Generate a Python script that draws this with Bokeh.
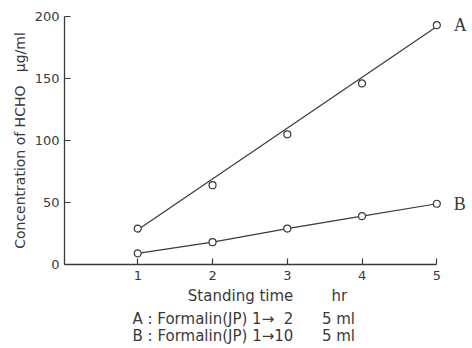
from bokeh.plotting import figure
from bokeh.models import Range1d, Label, FixedTicker, Title
from bokeh.embed import file_html
from bokeh.resources import INLINE

time_hr = [1, 2, 3, 4, 5]
conc_A = [29, 64, 105, 146, 193]
conc_B = [9, 18, 29, 39, 49]
fit_A_x = [1, 5]
fit_A_y = [28, 192]
x_ticks = [1, 2, 3, 4, 5]
y_ticks = [0, 50, 100, 150, 200]

INK = "#3a3a3a"
FONT = "DejaVu Sans"
NB = "\u00a0"

p = figure(width=472, height=348, output_backend="svg", toolbar_location=None,
           x_range=Range1d(0.02, 5.45), y_range=Range1d(0, 200),
           min_border_left=64, min_border_right=2, min_border_top=16, min_border_bottom=84)
p.outline_line_color = None
p.xgrid.visible = False
p.ygrid.visible = False
p.background_fill_color = "white"
p.border_fill_color = "white"

for ax in (p.xaxis[0], p.yaxis[0]):
    ax.axis_line_color = INK
    ax.axis_line_width = 1.3
    ax.major_tick_line_color = INK
    ax.major_tick_line_width = 1.2
    ax.major_tick_in = 6
    ax.major_tick_out = 0
    ax.minor_tick_line_color = None
    ax.major_label_text_font = FONT
    ax.major_label_text_font_size = "13px"
    ax.major_label_text_color = INK
    ax.axis_label_text_font = FONT
    ax.axis_label_text_font_style = "normal"
    ax.axis_label_text_color = INK

p.xaxis.bounds = (0.02, 5)
p.xaxis.ticker = FixedTicker(ticks=x_ticks)
p.yaxis.ticker = FixedTicker(ticks=y_ticks)
p.xaxis.major_label_standoff = 6
p.yaxis.major_label_standoff = 5
p.xaxis.axis_label = "Standing" + NB + "time" + NB * 8 + "hr"
p.xaxis.axis_label_text_font_size = "15px"
p.xaxis.axis_label_standoff = 4
p.yaxis.axis_label = "Concentration of HCHO" + NB * 3 + "\u03bcg/ml"
p.yaxis.axis_label_text_font_size = "14px"
p.yaxis.axis_label_standoff = 4

p.line(fit_A_x, fit_A_y, line_color=INK, line_width=1.2)
p.line(time_hr, conc_B, line_color=INK, line_width=1.2)
p.scatter(time_hr, conc_A, size=7, fill_color="white", line_color=INK, line_width=1.2)
p.scatter(time_hr, conc_B, size=7, fill_color="white", line_color=INK, line_width=1.2)

p.add_layout(Label(x=5, y=conc_A[-1], x_offset=17, text="A", text_font="Liberation Serif",
                   text_font_size="18px", text_color=INK, text_baseline="middle"))
p.add_layout(Label(x=5, y=conc_B[-1], x_offset=17, text="B", text_font="Liberation Serif",
                   text_font_size="18px", text_color=INK, text_baseline="middle"))

legend_lines = ["A" + NB + ":" + NB + "Formalin(JP)" + NB + "1\u2192" + NB * 2 + "2" + NB * 6 + "5" + NB + "ml",
                "B" + NB + ":" + NB + "Formalin(JP)" + NB + "1\u219210" + NB * 6 + "5" + NB + "ml"]
p.add_layout(Title(text="\n".join(legend_lines), align="left", offset=68, text_font=FONT,
                   text_font_size="15px", text_font_style="normal", text_color=INK,
                   text_line_height=0.95, standoff=2), "below")

open("out.html", "w").write(file_html(p, INLINE))
